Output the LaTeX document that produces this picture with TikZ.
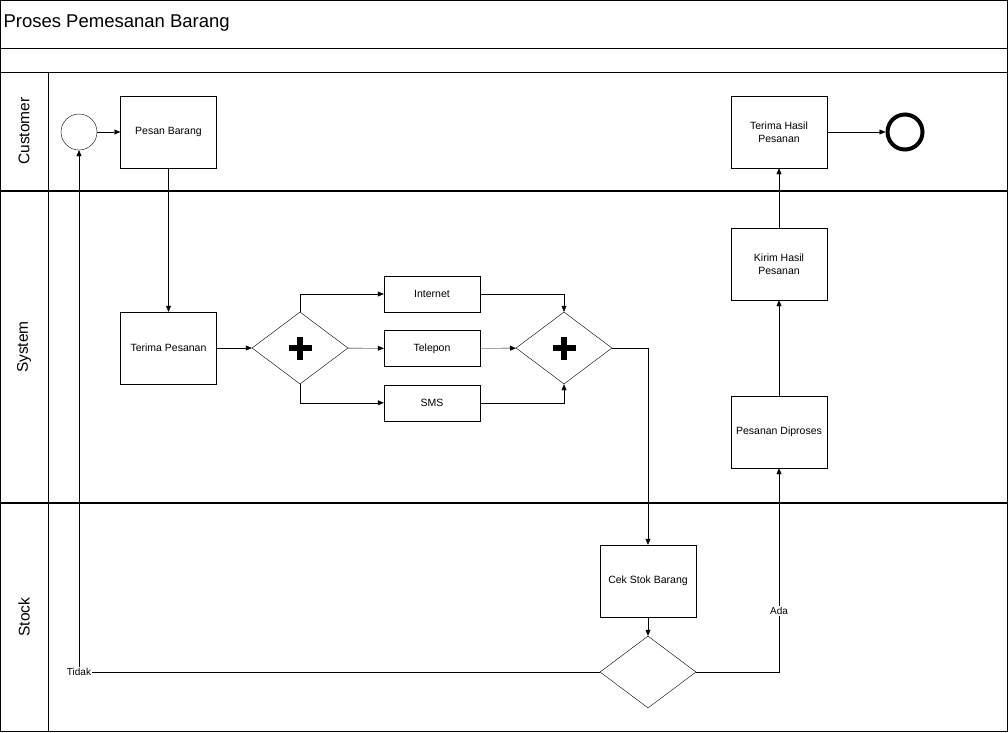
\documentclass[tikz,border=0pt]{standalone}
\usepackage{fontspec}
\setmainfont{Liberation Sans}
\usetikzlibrary{arrows.meta,positioning,shapes.geometric}

\begin{document}
\begin{tikzpicture}[x=1pt,y=-1pt,>={Triangle[length=6pt,width=5pt]},
  every node/.style={font=\fontsize{10.5}{12.5}\selectfont},
  task/.style={draw,minimum width=96pt,minimum height=72pt,align=center,inner sep=1pt},
  smalltask/.style={draw,minimum width=96pt,minimum height=36pt,inner sep=1pt},
  gate/.style={draw,diamond,minimum width=96pt,minimum height=72pt,inner sep=0pt},
  event/.style={draw,circle,minimum size=36pt,inner sep=0pt},
  lane/.style={font=\fontsize{15.5}{18}\selectfont,rotate=90},
  cond/.style={fill=white,inner sep=1pt,font=\fontsize{10}{12}\selectfont}]
\useasboundingbox (0,0) rectangle (1008,732);
% pool and lanes
\draw (0.5,0.5) rectangle (1007.5,731.5);
\draw (0,48) -- (1008,48);
\draw (0,72) -- (1008,72);
\draw[line width=1.3pt] (0,191) -- (1008,191);
\draw[line width=1.3pt] (0,503) -- (1008,503);
\draw (48,72) -- (48,732);
\node[anchor=west,font=\fontsize{18.5}{22}\selectfont] (title) at (0,23) {Proses Pemesanan Barang};
\node[lane] (lcust) at (24,131) {Customer};
\node[lane] (lsys) at (24,347) {System};
\node[lane] (lstock) at (24,617) {Stock};
% customer
\node[event] (start) at (79,132) {};
\node[task] (pesan) at (168.5,132) {Pesan Barang};
\node[task] (hasil) at (779,132) {Terima Hasil\\Pesanan};
\node[event,line width=4pt,minimum size=35pt] (end) at (905,132) {};
% system
\node[task] (terima) at (168.5,348) {Terima Pesanan};
\node[gate] (g1) at (300,348) {};
\node[smalltask] (internet) at (432,294) {Internet};
\node[smalltask,below=18pt of internet] (telepon) {Telepon};
\node[smalltask,below=18pt of telepon] (sms) {SMS};
\node[gate] (g2) at (564,348) {};
\node[task] (proses) at (779,432) {Pesanan Diproses};
\node[task] (kirim) at (779,264) {Kirim Hasil\\Pesanan};
% stock
\node[task] (cek) at (648,581) {Cek Stok Barang};
\node[gate] (cekgate) at (648,672) {};
% plus markers
\foreach \g in {g1,g2}{
  \draw[line width=6pt] ([xshift=-11.5pt]\g.center) -- ([xshift=11.5pt]\g.center);
  \draw[line width=6pt] ([yshift=-11.5pt]\g.center) -- ([yshift=11.5pt]\g.center);
}
% flows
\draw[->] (start) -- (pesan);
\draw[->] (pesan) -- (terima);
\draw[->] (terima) -- (g1);
\draw[->] (g1.north) |- (internet);
\draw[->] (g1) -- (telepon);
\draw[->] (g1.south) |- (sms);
\draw[->] (internet) -| (g2.north);
\draw[->] (telepon) -- (g2);
\draw[->] (sms) -| (g2.south);
\draw[->] (g2.east) -| (cek);
\draw[->] (cek) -- (cekgate);
\draw[->] (cekgate.east) -| node[cond,pos=0.65] {Ada} (proses);
\draw[->] (cekgate.west) -| node[cond,pos=0.5] {Tidak} (start);
\draw[->] (proses) -- (kirim);
\draw[->] (kirim) -- (hasil);
\draw[->] (hasil) -- (end);
\end{tikzpicture}
\end{document}
